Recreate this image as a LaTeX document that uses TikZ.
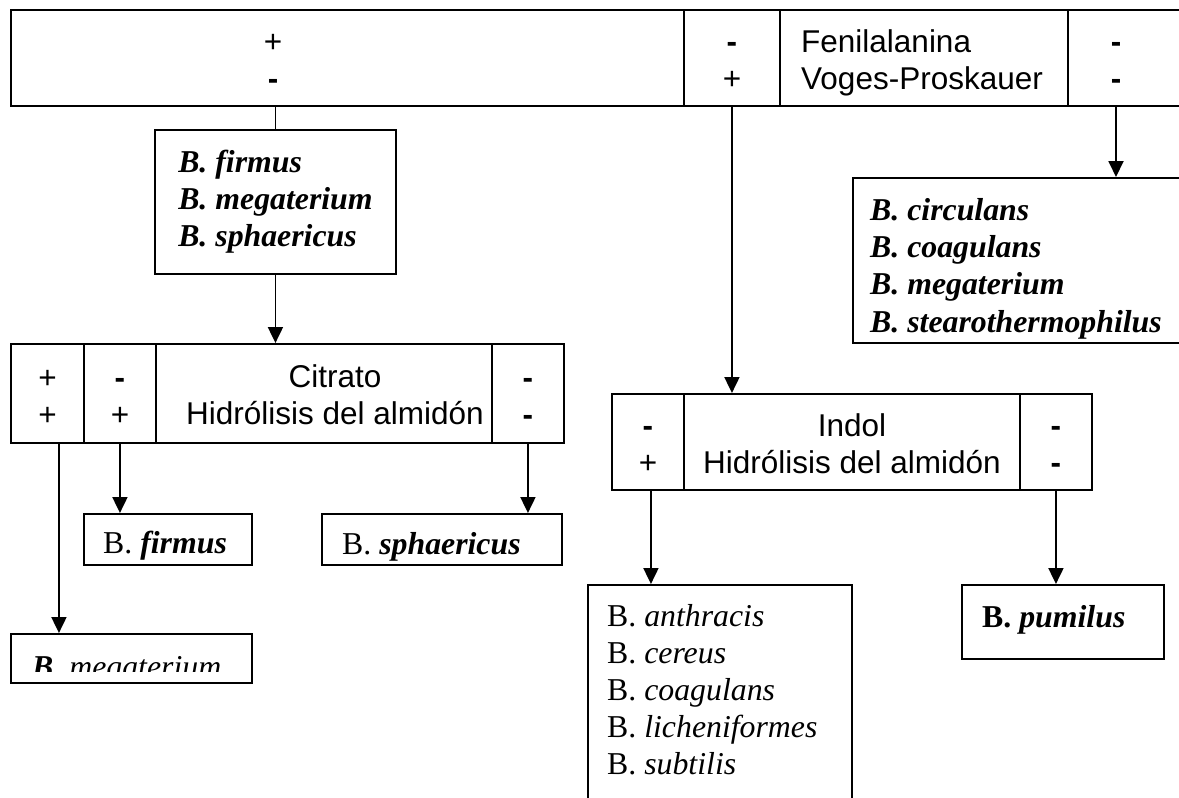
\documentclass[tikz,border=0pt]{standalone}
\usepackage{fontspec}
\setmainfont{Liberation Serif}
\newfontfamily\arialf{Liberation Sans}
\usetikzlibrary{arrows.meta}
\newcommand{\sanstxt}{\arialf\fontsize{31.5}{37}\selectfont}
\newcommand{\sertxt}{\fontsize{31.8}{36.8}\selectfont}
\newcommand{\bi}[1]{\textbf{\textit{#1}}}
\newcommand{\negsign}{\textbf{-}}

\begin{document}
\begin{tikzpicture}[x=1pt,y=-1pt,
  cell/.style={draw, line width=1.9pt, inner sep=0pt, anchor=north west, align=center,
    font=\sanstxt, text height=64pt, text depth=0pt},
  box/.style={draw, line width=1.9pt, inner sep=0pt, anchor=north west, align=left, font=\sertxt},
  txt/.style={inner sep=0pt, align=left, font=\sertxt},
  stxt/.style={inner sep=0pt, font=\sanstxt, text height=64pt, text depth=0pt},
  arr/.style={line width=1.9pt, -{Triangle[width=15pt,length=16pt]}},
  conn/.style={line width=1.9pt}]
\useasboundingbox (0,0) rectangle (1179,798);
\clip (0,0) rectangle (1179,798);
% first test row
\node[cell, minimum width=673pt, minimum height=96pt] (t1) at (10,9) {};
\node[stxt, align=center] (t1txt) at (273,57) {+\\\negsign};
\node[cell, minimum width=96pt, minimum height=96pt] (t2) at (683,9) {\negsign\\+};
\node[cell, minimum width=288pt, minimum height=96pt] (t3) at (779,9) {};
\node[stxt, anchor=west, align=left] (t3txt) at (801,57) {Fenilalanina\\Voges-Proskauer};
\node[cell, minimum width=160pt, minimum height=96pt] (t4) at (1067,9) {};
\node[stxt, align=center] (t4txt) at (1116,57) {\negsign\\\negsign};
% left branch
\node[box, align=left, minimum width=241pt, minimum height=144pt] (fgrp) at (154,129)
  {\bi{B. firmus}\\\bi{B. megaterium}\\\bi{B. sphaericus}};
\draw[conn] (fgrp.north) -- (fgrp.north |- t1.south);
\node[cell, minimum width=73pt, minimum height=99pt] (c1) at (10,343) {+\\+};
\node[cell, minimum width=72pt, minimum height=99pt] (c2) at (83,343) {\negsign\\+};
\node[cell, minimum width=336pt, minimum height=99pt] (c3) at (155,343) {};
\node[stxt, align=center] (c3txt) at (335,392.5) {Citrato\\Hidrólisis del almidón};
\node[cell, minimum width=72pt, minimum height=99pt] (c4) at (491,343) {\negsign\\\negsign};
\draw[arr] (fgrp.south) -- (fgrp.south |- c3.north);
\node[box, minimum width=168pt, minimum height=51pt] (fbox) at (83,513) {};
\node[txt, anchor=base west] (fboxtxt) at (103,553) {B. \bi{firmus}};
\node[box, minimum width=240pt, minimum height=51pt] (sbox) at (321,513) {};
\begin{scope}
\clip (321,513) rectangle (561,560);
\node[txt, anchor=base west] (sboxtxt) at (342,554) {B. \bi{sphaericus}};
\end{scope}
\node[box, minimum width=241pt, minimum height=49pt] (mbox) at (10,633) {};
\begin{scope}
\clip (10,633) rectangle (251,671);
\node[txt, anchor=base west] (mboxtxt) at (32,677) {\bi{B.} \textit{megaterium}};
\end{scope}
\draw[arr] ([xshift=11.5pt]c1.south) -- ([xshift=11.5pt]c1.south |- mbox.north);
\draw[arr] (c2.south) -- (c2.south |- fbox.north);
\draw[arr] (c4.south) -- (c4.south |- sbox.north);
% right branch
\node[box, minimum width=380pt, minimum height=165pt] (circ) at (852,177) {};
\node[txt, anchor=base west, font=\fontsize{31.8}{37.3}\selectfont] (circtxt) at (870,332)
  {\bi{B. circulans}\\\bi{B. coagulans}\\\bi{B. megaterium}\\\bi{B. stearothermophilus}};
\draw[arr] (t4txt |- t4.south) -- (t4txt |- circ.north);
\node[cell, minimum width=72pt, minimum height=96pt] (i1) at (611,393) {\negsign\\+};
\node[cell, minimum width=336pt, minimum height=96pt] (i2) at (683,393) {Indol\\Hidrólisis del almidón};
\node[cell, minimum width=72pt, minimum height=96pt] (i3) at (1019,393) {\negsign\\\negsign};
\draw[arr] (t2.south) -- (t2.south |- i2.north);
\node[box, minimum width=264pt, minimum height=260pt] (anth) at (587,584) {};
\node[txt, anchor=base west] (anthtxt) at (607,774)
  {B. \textit{anthracis}\\B. \textit{cereus}\\B. \textit{coagulans}\\B. \textit{licheniformes}\\B. \textit{subtilis}};
\node[box, minimum width=202pt, minimum height=74pt] (pum) at (961,584) {};
\node[txt, anchor=base west] (pumtxt) at (982,627) {\textbf{B.} \bi{pumilus}};
\draw[arr] ([xshift=3pt]i1.south) -- ([xshift=3pt]i1.south |- anth.north);
\draw[arr] (i3.south) -- (i3.south |- pum.north);
\end{tikzpicture}
\end{document}
